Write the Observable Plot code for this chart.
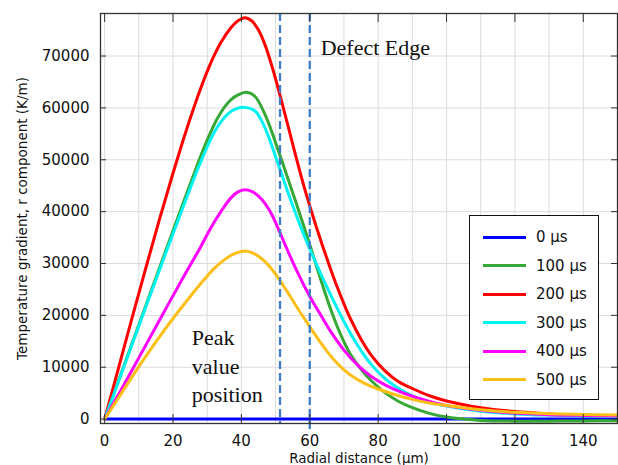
<!DOCTYPE html>
<html>
<head>
<meta charset="utf-8">
<script src="https://cdn.jsdelivr.net/npm/d3@7"></script>
<script src="https://cdn.jsdelivr.net/npm/@observablehq/plot@0.6"></script>
<style>
  body { margin: 0; background: #fff; }
  #wrap { position: relative; width: 618px; height: 465px; overflow: hidden; background: #fff; font-family: "DejaVu Sans", sans-serif; }
  #wrap svg { position: absolute; left: 0; top: 0; }
  #legend { position: absolute; left: 469px; top: 215px; width: 130px; height: 185px; box-sizing: border-box;
            border: 1.5px solid #111; background: #fff; padding-top: 7px; }
  .item { position: relative; height: 28.6px; }
  .swatch { position: absolute; left: 13px; top: 12.5px; width: 43px; height: 3px; }
  .lab { position: absolute; left: 66px; top: 4px; font-size: 15px; line-height: 20px; color: #111; }
</style>
</head>
<body>
<div id="wrap"></div>
<script>
// ---- data ----
const labels = ["0 μs", "100 μs", "200 μs", "300 μs", "400 μs", "500 μs"];
const colors = ["#0000ff", "#36a836", "#ff0000", "#00f2f2", "#ff00ff", "#fcbf17"];

// [radial distance (μm), gradient (K/m)]
const t0 = [[0, 0], [150, 0]];
const t100 = [[0,0],[6,10900],[12,21800],[18,32700],[23,41700],[27,48800],[29,52200],[31,55300],[33,58000],[35,60100],[37,61600],[39,62500],[41.5,63000],[44,62200],[46,60000],[48,57000],[50,53300],[52,49500],[54,45600],[56,41700],[58,37700],[60,33600],[62,29400],[64,25300],[66,21400],[68,17900],[70,14900],[72,12400],[75,9600],[78,7400],[82,5100],[86,3400],[90,2200],[95,1100],[100,400],[105,0],[110,-250],[120,-400],[130,-400],[140,-350],[150,-300]];
const t200 = [[0,0],[4,9700],[8,19400],[12,29000],[16,38400],[20,47400],[24,55900],[28,63600],[31,68600],[34,72600],[37,75500],[39,76800],[41,77400],[43,76800],[45,75000],[47,72000],[49,67900],[50,65600],[52,60700],[54,55600],[56,50500],[58,45600],[60,41100],[62,36900],[64,32900],[66,29100],[68,25500],[70,22200],[72,19200],[75,15400],[78,12300],[82,9300],[86,7200],[90,5900],[95,4500],[100,3500],[110,2200],[120,1450],[130,1000],[140,700],[150,500]];
const t300 = [[0,0],[6,10700],[12,21500],[18,32200],[23,41000],[27,47800],[30,52500],[32,55200],[34,57300],[36,58800],[38,59700],[41,60100],[44,59400],[46,57400],[48,54400],[50,50600],[52,46800],[54,43000],[56,39400],[58,36000],[60,32800],[62,29800],[64,26900],[66,24100],[68,21400],[70,18800],[72,16400],[75,13200],[78,10500],[82,7800],[86,5900],[90,4500],[95,3300],[100,2500],[110,1500],[120,1000],[130,750],[140,600],[150,500]];
const t400 = [[0,0],[8,9400],[16,19000],[24,28500],[28,33100],[31,36800],[34,40000],[37,42700],[39,43800],[41,44200],[43,43900],[45,43000],[47,41500],[49,39300],[51,36400],[53,33300],[55,30300],[57,27500],[59,24900],[61,22500],[63,20300],[66,17000],[70,13300],[74,10400],[78,8200],[82,6600],[86,5400],[90,4400],[95,3400],[100,2600],[110,1700],[120,1150],[130,850],[140,700],[150,600]];
const t500 = [[0,0],[5,5050],[10,10100],[15,14900],[20,19400],[25,23600],[29,26800],[32,29000],[35,30700],[38,31900],[41,32400],[43,32100],[45,31400],[47,30300],[49,28800],[51,27000],[53,25000],[55,22900],[57,20800],[59,18800],[61,16800],[63,14900],[65,13100],[67,11500],[70,9500],[73,8000],[76,6900],[80,5800],[85,4700],[90,3800],[95,3100],[100,2600],[110,1800],[120,1300],[130,1050],[140,900],[150,800]];
const seriesPoints = [t0, t100, t200, t300, t400, t500];

const xTicks = [0, 20, 40, 60, 80, 100, 120, 140];
const xGrid = [0, 10, 20, 30, 40, 50, 60, 70, 80, 90, 100, 110, 120, 130, 140, 150];
const yTicks = [0, 10000, 20000, 30000, 40000, 50000, 60000, 70000];
const defectLines = [51.3, 60];
const xTitle = "Radial distance (μm)";
const yTitle = "Temperature gradient, r component (K/m)";
const notes = [
  {x: 63.2, y: 70250, text: "Defect Edge"},
  {x: 25.5, y: 3200, text: "Peak\nvalue\nposition"}
];

// ---- build rows ----
const rows = seriesPoints.flatMap((pts, i) => pts.map(([r, v]) => ({r, v, s: labels[i]})));

const chart = Plot.plot({
  width: 618,
  height: 465,
  marginLeft: 100,
  marginRight: 1,
  marginTop: 13,
  marginBottom: 42,
  style: {fontFamily: '"DejaVu Sans", sans-serif', fontSize: "15px", background: "transparent", color: "#111", overflow: "visible"},
  x: {domain: [-1.2, 150]},
  y: {domain: [-850, 78200]},
  color: {domain: labels, range: colors},
  marks: [
    Plot.gridX(xGrid, {stroke: "#dcdcdc", strokeOpacity: 1}),
    Plot.gridY(yTicks, {stroke: "#dcdcdc", strokeOpacity: 1}),
    Plot.line(rows, {x: "r", y: "v", z: "s", stroke: "s", strokeWidth: 3, curve: "catmull-rom"}),
    Plot.ruleX(defectLines.slice(0, 1), {x: d => d, stroke: "#3d7cc9", strokeWidth: 2.3, strokeDasharray: "8,4"}),
    Plot.ruleX(defectLines.slice(1), {x: d => d, stroke: "#3d7cc9", strokeWidth: 2.3, strokeDasharray: "8,4", insetBottom: -9}),
    Plot.frame({stroke: "#333", strokeWidth: 1.3}),
    Plot.ruleX(xTicks, {x: d => d, insetTop: 401, stroke: "#333"}),
    Plot.ruleX(xTicks, {x: d => d, insetBottom: 401, stroke: "#333"}),
    Plot.ruleY(yTicks, {y: d => d, insetRight: 511, stroke: "#333"}),
    Plot.ruleY(yTicks, {y: d => d, insetLeft: 511, stroke: "#333"}),
    Plot.axisX(xTicks, {tickSize: 0, tickPadding: 12, label: null, fontSize: 15, tickFormat: d => String(d)}),
    Plot.axisY(yTicks, {tickSize: 0, tickPadding: 11, label: null, fontSize: 15, tickFormat: d => String(d)}),
    Plot.text([xTitle], {text: d => d, frameAnchor: "bottom", lineAnchor: "middle", dy: 35, fontSize: 13.5}),
    Plot.text([yTitle], {text: d => d, frameAnchor: "left", textAnchor: "middle", lineAnchor: "middle", rotate: -90, dx: -78, fontSize: 13.5}),
    Plot.text(notes, {x: "x", y: "y", text: "text", textAnchor: "start", lineAnchor: "bottom", lineHeight: 1.3,
                      fontFamily: '"Liberation Serif", "Times New Roman", serif', fontSize: 22, fill: "#111"})
  ]
});

const wrap = document.getElementById("wrap");
wrap.appendChild(chart);

// legend
const legend = document.createElement("div");
legend.id = "legend";
labels.forEach((l, i) => {
  const item = document.createElement("div");
  item.className = "item";
  const sw = document.createElement("div");
  sw.className = "swatch";
  sw.style.background = colors[i];
  const t = document.createElement("div");
  t.className = "lab";
  t.textContent = l;
  item.appendChild(sw);
  item.appendChild(t);
  legend.appendChild(item);
});
wrap.appendChild(legend);
</script>
</body>
</html>
